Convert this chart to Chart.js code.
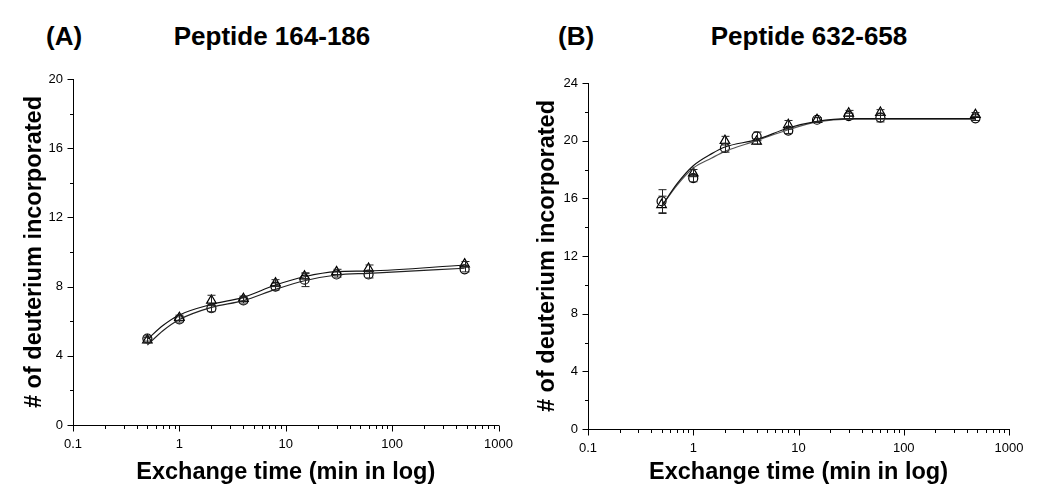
<!DOCTYPE html>
<html>
<head>
<meta charset="utf-8">
<script src="https://cdn.jsdelivr.net/npm/chart.js@4.4.1/dist/chart.umd.min.js"></script>
<style>
  html, body { margin: 0; padding: 0; background: #fff; }
  #wrap { position: relative; width: 1050px; height: 501px; overflow: hidden; font-family: "Liberation Sans", Arial, sans-serif; }
  .cv { position: absolute; top: 0; width: 525px; height: 501px; }
  .ttl { position: absolute; font-weight: bold; font-size: 26px; line-height: 26px; color: #000; white-space: nowrap; }
</style>
</head>
<body>
<div id="wrap">
  <div class="ttl" style="left:46px; top:23px;">(A)</div>
  <div class="ttl" style="left:122px; width:300px; text-align:center; top:23px;">Peptide 164-186</div>
  <div class="ttl" style="left:558px; top:23px;">(B)</div>
  <div class="ttl" style="left:659px; width:300px; text-align:center; top:23px;">Peptide 632-658</div>
  <div class="cv" style="left:0px;"><canvas id="cA" width="525" height="501"></canvas></div>
  <div class="cv" style="left:525px;"><canvas id="cB" width="525" height="501"></canvas></div>
</div>
<script>
// ---------- data ----------
const times = [0.5, 1, 2, 4, 8, 15, 30, 60, 480];

// Panel A: Peptide 164-186
const aTriangle    = [4.9, 6.2, 7.2, 7.3, 8.2, 8.6, 8.85, 9.05, 9.3];
const aTriangleErr = [0.15, 0.15, 0.3, 0.15, 0.2, 0.15, 0.15, 0.2, 0.15];
const aCircle      = [5.0, 6.1, 6.75, 7.2, 8.0, 8.4, 8.7, 8.7, 9.0];
const aCircleErr   = [0.15, 0.15, 0.2, 0.15, 0.2, 0.4, 0.15, 0.2, 0.15];
const fitTimesA    = [0.5, 0.7, 1, 2, 4, 8, 15, 30, 60, 480];
const aFitUpper    = [4.95, 5.75, 6.36, 6.97, 7.38, 8.09, 8.57, 8.86, 8.9, 9.25];
const aFitLower    = [4.62, 5.45, 6.1, 6.8, 7.19, 7.84, 8.34, 8.67, 8.77, 9.06];

// Panel B: Peptide 632-658
const bTriangle    = [15.55, 17.75, 20.0, 19.95, 21.1, 21.45, 21.9, 21.95, 21.8];
const bTriangleErr = [0.6, 0.25, 0.3, 0.2, 0.3, 0.15, 0.2, 0.2, 0.15];
const bCircle      = [15.8, 17.4, 19.5, 20.3, 20.7, 21.45, 21.7, 21.6, 21.55];
const bCircleErr   = [0.8, 0.25, 0.3, 0.3, 0.2, 0.15, 0.2, 0.3, 0.15];
const fitTimesB    = [0.5, 0.7, 1, 1.5, 2, 4, 8, 15, 30, 60, 480];
const bFit1        = [15.44, 17.0, 18.26, 19.1, 19.56, 20.07, 20.88, 21.34, 21.53, 21.53, 21.53];
const bFit2        = [15.44, 16.9, 18.1, 18.8, 19.26, 20.0, 20.76, 21.3, 21.5, 21.5, 21.5];

// axis ticks
const xMajor = [0.1, 1, 10, 100, 1000];
const yMaxA = 20, yMaxB = 24, yStep = 4;

const xTitle = 'Exchange time (min in log)';
const yTitle = '# of deuterium incorporated';

// ---------- helpers ----------
const pts = (xs, ys) => xs.map((x, i) => ({x: x, y: ys[i]}));
function xTickValues() {
  const v = [];
  for (let d = -1; d <= 2; d++) for (let m = 1; m <= 9; m++) v.push(+(m * Math.pow(10, d)).toPrecision(3));
  v.push(1000);
  return v;
}

const tickPlugin = {
  id: 'ticksAndErr',
  afterDatasetsDraw(chart) {
    const ctx = chart.ctx, xs = chart.scales.x, ys = chart.scales.y;
    ctx.save();
    // error bars
    chart.data.datasets.forEach((ds) => {
      if (!ds.err) return;
      ctx.strokeStyle = '#222'; ctx.lineWidth = 1;
      ds.data.forEach((p, i) => {
        const e = ds.err[i];
        const px = Math.round(xs.getPixelForValue(p.x)) + 0.5;
        const y1 = ys.getPixelForValue(p.y + e), y2 = ys.getPixelForValue(p.y - e);
        ctx.beginPath();
        ctx.moveTo(px, y1); ctx.lineTo(px, y2);
        ctx.moveTo(px - 4, y1); ctx.lineTo(px + 4, y1);
        ctx.moveTo(px - 4, y2); ctx.lineTo(px + 4, y2);
        ctx.stroke();
      });
    });
    // tick marks
    ctx.strokeStyle = '#000'; ctx.lineWidth = 1;
    ctx.beginPath();
    const by = Math.round(ys.getPixelForValue(0)) + 0.5;
    xTickValues().forEach((v) => {
      const px = Math.round(xs.getPixelForValue(v)) + 0.5;
      const major = xMajor.includes(v);
      ctx.moveTo(px, by); ctx.lineTo(px, by + (major ? 6 : 3.5));
    });
    const lx = Math.round(xs.getPixelForValue(0.1)) + 0.5;
    for (let v = 0; v <= ys.max + 1e-9; v += yStep / 2) {
      const py = Math.round(ys.getPixelForValue(v)) + 0.5;
      const major = Math.abs(v % yStep) < 1e-9;
      ctx.moveTo(lx, py); ctx.lineTo(lx - (major ? 6 : 3.5), py);
    }
    ctx.stroke();
    ctx.restore();
  }
};

function makeChart(id, cfg) {
  const fitDs = cfg.fits.map((f) => ({
    data: pts(f.t, f.v), showLine: true, pointRadius: 0, borderColor: f.color,
    borderWidth: 1.2, cubicInterpolationMode: 'monotone', fill: false
  }));
  const markDs = [
    {data: pts(times, cfg.tri), err: cfg.triErr, showLine: false, pointStyle: 'triangle', pointRadius: 5.5,
     borderColor: '#000', backgroundColor: 'rgba(255,255,255,0)', pointBorderWidth: 1.2},
    {data: pts(times, cfg.cir), err: cfg.cirErr, showLine: false, pointStyle: 'circle', pointRadius: 4.5,
     borderColor: '#000', backgroundColor: 'rgba(255,255,255,0)', pointBorderWidth: 1.2}
  ];
  return new Chart(document.getElementById(id), {
    type: 'scatter',
    data: {datasets: fitDs.concat(markDs)},
    options: {
      responsive: false, animation: false, devicePixelRatio: 1,
      layout: {padding: {top: cfg.top, right: 525 - cfg.right, bottom: 0, left: 0}},
      plugins: {legend: {display: false}, tooltip: {enabled: false}},
      scales: {
        x: {
          type: 'logarithmic', min: 0.1, max: 1000,
          afterBuildTicks: (s) => { s.ticks = xTickValues().map((v) => ({value: v})); },
          afterFit: (s) => { s.height = 501 - cfg.bottom; },
          grid: {display: false, drawTicks: false},
          border: {display: true, color: '#000', width: 1},
          ticks: {
            autoSkip: false, maxRotation: 0, padding: 12, color: '#000',
            font: {family: '"Liberation Sans", Arial, sans-serif', size: 13},
            callback: (v) => xMajor.includes(v) ? String(v) : null
          },
          title: {display: true, text: xTitle, color: '#000',
                  font: {family: '"Liberation Sans", Arial, sans-serif', size: 23.5, weight: 'bold'},
                  padding: {top: 0, bottom: 14}}
        },
        y: {
          min: 0, max: cfg.ymax,
          afterFit: (s) => { s.width = cfg.left; },
          grid: {display: false, drawTicks: false},
          border: {display: true, color: '#000', width: 1},
          ticks: {stepSize: yStep, padding: 10, color: '#000',
                  font: {family: '"Liberation Sans", Arial, sans-serif', size: 13}},
          title: {display: true, text: yTitle, color: '#000',
                  font: {family: '"Liberation Sans", Arial, sans-serif', size: 23.5, weight: 'bold'},
                  padding: {top: cfg.ytitlePad, bottom: 0}}
        }
      }
    },
    plugins: [tickPlugin]
  });
}

makeChart('cA', {
  tri: aTriangle, triErr: aTriangleErr, cir: aCircle, cirErr: aCircleErr,
  fits: [{t: fitTimesA, v: aFitUpper, color: '#111'}, {t: fitTimesA, v: aFitLower, color: '#222'}],
  ymax: yMaxA, left: 73, right: 499, top: 79, bottom: 425, ytitlePad: 20
});
makeChart('cB', {
  tri: bTriangle, triErr: bTriangleErr, cir: bCircle, cirErr: bCircleErr,
  fits: [{t: fitTimesB, v: bFit1, color: '#111'}, {t: fitTimesB, v: bFit2, color: '#555'}],
  ymax: yMaxB, left: 63, right: 484, top: 83, bottom: 429, ytitlePad: 8
});
</script>
</body>
</html>
